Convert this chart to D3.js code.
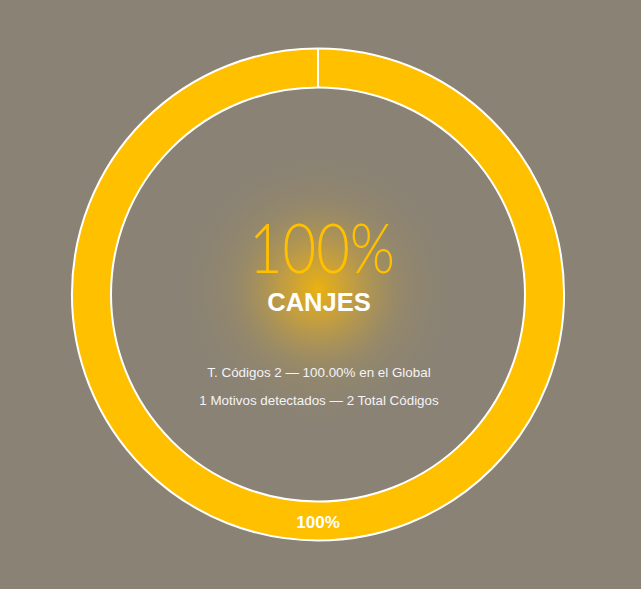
<!DOCTYPE html>
<html>
<head>
<meta charset="utf-8">
<script src="https://cdn.jsdelivr.net/npm/d3@7"></script>
<style>
html,body{margin:0;padding:0;background:#8a8274;}
svg{display:block;}
</style>
</head>
<body>
<svg id="chart" width="641" height="589"></svg>
<script>
// Data
const categories = ["CANJES"];
const values = [2];
const percentLabels = ["100%"];
const centerTitle = "100%";
const centerSubtitle = "CANJES";
const infoLines = [
  "T. Códigos 2 — 100.00% en el Global",
  "1 Motivos detectados — 2 Total Códigos"
];

const W = 641, H = 589;
const cx = 318, cy = 294.5;
const outerR = 246, innerR = 207;

const svg = d3.select("#chart");
svg.append("rect").attr("width", W).attr("height", H).attr("fill", "#8a8274");

const defs = svg.append("defs");
const grad = defs.append("radialGradient").attr("id", "glow");
grad.append("stop").attr("offset", "0%").attr("stop-color", "#f0b40a").attr("stop-opacity", 0.95);
grad.append("stop").attr("offset", "25%").attr("stop-color", "#dcaa2a").attr("stop-opacity", 0.68);
grad.append("stop").attr("offset", "60%").attr("stop-color", "#b49a50").attr("stop-opacity", 0.25);
grad.append("stop").attr("offset", "100%").attr("stop-color", "#8a8274").attr("stop-opacity", 0);

const g = svg.append("g").attr("transform", `translate(${cx},${cy})`);

g.append("circle").attr("cx", 0).attr("cy", -6).attr("r", 140).attr("fill", "url(#glow)");

const pie = d3.pie().sort(null).value(d => d);
const arc = d3.arc().innerRadius(innerR).outerRadius(outerR);
const arcs = pie(values);

g.selectAll("path.slice").data(arcs).join("path")
  .attr("class", "slice")
  .attr("d", arc)
  .attr("fill", "#ffc000")
  .attr("stroke", "#ffffff")
  .attr("stroke-width", 2);

// slice boundary lines (start angle of each slice)
g.selectAll("line.sep").data(arcs).join("line")
  .attr("class", "sep")
  .attr("x1", d => innerR * Math.sin(d.startAngle))
  .attr("y1", d => -innerR * Math.cos(d.startAngle))
  .attr("x2", d => outerR * Math.sin(d.startAngle))
  .attr("y2", d => -outerR * Math.cos(d.startAngle))
  .attr("stroke", "#ffffff")
  .attr("stroke-width", 2);

g.selectAll("text.plabel").data(arcs).join("text")
  .attr("class", "plabel")
  .attr("transform", d => `translate(${arc.centroid(d)})`)
  .attr("text-anchor", "middle")
  .attr("dy", "0.42em")
  .attr("fill", "#ffffff")
  .attr("font-family", "Liberation Sans, Arial, sans-serif")
  .attr("font-weight", "bold")
  .attr("font-size", 17)
  .text((d, i) => percentLabels[i]);

g.append("text")
  .attr("x", 4).attr("y", -22)
  .attr("text-anchor", "middle")
  .attr("fill", "#ffc000")
  .attr("font-family", "Lato, sans-serif")
  .attr("font-weight", 300)
  .attr("font-size", 68)
  .attr("textLength", 146)
  .attr("lengthAdjust", "spacingAndGlyphs")
  .text(centerTitle);

g.append("text")
  .attr("x", 1).attr("y", 16)
  .attr("text-anchor", "middle")
  .attr("fill", "#ffffff")
  .attr("font-family", "Liberation Sans, Arial, sans-serif")
  .attr("font-weight", "bold")
  .attr("font-size", 25.5)
  .text(centerSubtitle);

g.selectAll("text.info").data(infoLines).join("text")
  .attr("class", "info")
  .attr("x", 1)
  .attr("y", (d, i) => 82 + i * 28)
  .attr("text-anchor", "middle")
  .attr("fill", "#f4f4f4")
  .attr("font-family", "Liberation Sans, Arial, sans-serif")
  .attr("font-size", 13.4)
  .text(d => d);
</script>
</body>
</html>
